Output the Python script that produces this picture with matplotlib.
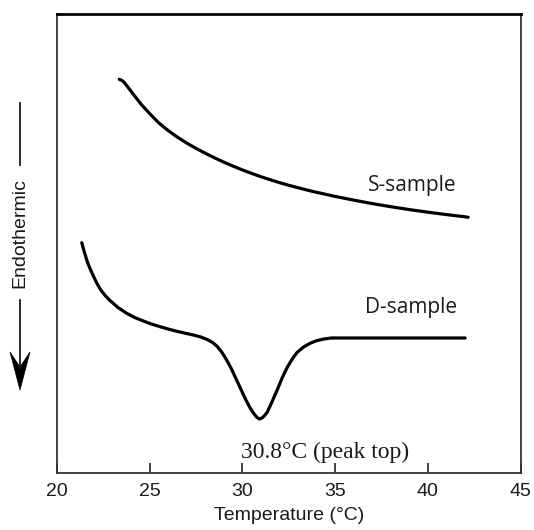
import matplotlib
matplotlib.use("Agg")
import matplotlib.pyplot as plt
from matplotlib.lines import Line2D
from matplotlib.patches import Polygon

# ---- data (heat flow in arbitrary units) ----
s_temp = [23.37, 23.50, 23.63, 23.85, 24.13, 24.55, 25.03, 25.50, 26.00, 26.50,
          27.00, 27.50, 28.00, 28.50, 29.00, 29.50, 30.00, 30.50, 31.00, 31.50,
          32.00, 32.50, 33.00, 33.50, 34.00, 35.00, 36.00, 37.00, 38.00, 39.00,
          40.00, 41.00, 42.00, 42.17]
s_flow = [394.0, 393.0, 391.0, 385.8, 379.0, 369.0, 359.3, 350.4, 342.8, 336.2,
          330.3, 325.0, 320.1, 315.5, 311.2, 307.2, 303.4, 299.9, 296.6, 293.6,
          290.7, 288.0, 285.6, 283.2, 281.0, 276.9, 273.2, 269.7, 266.6, 263.7,
          261.1, 258.7, 256.5, 256.0]

d_temp = [21.35, 21.50, 21.65, 21.80, 21.97, 22.15, 22.35, 22.60, 22.87, 23.30,
          23.77, 24.20, 24.67, 25.10, 25.57, 26.00, 26.45, 26.90, 27.36, 27.75,
          28.10, 28.40, 28.65, 28.90, 29.15, 29.40, 29.65, 29.90, 30.15, 30.40,
          30.60, 30.78, 30.92, 31.06, 31.20, 31.34, 31.60, 31.88, 32.15, 32.42,
          32.70, 32.95, 33.30, 33.65, 34.00, 34.40, 34.80, 36.35, 42.01]
d_flow = [230.6, 220.5, 211.5, 204.5, 197.5, 190.5, 184.0, 178.0, 172.8, 165.8,
          160.0, 155.8, 152.3, 149.3, 146.6, 144.3, 142.1, 140.2, 138.3, 136.4,
          133.9, 130.8, 126.8, 121.0, 113.5, 105.0, 95.0, 85.0, 75.0, 66.0,
          60.3, 56.0, 54.3, 55.3, 57.8, 61.0, 71.5, 83.3, 95.5, 106.0,
          114.5, 120.8, 126.3, 130.0, 132.6, 134.3, 135.3, 135.3, 135.3]

x_ticks = [20, 25, 30, 35, 40, 45]
x_tick_labels = ["20", "25", "30", "35", "40", "45"]
peak_label = "30.8\u00b0C (peak top)"
s_label = "S-sample"
d_label = "D-sample"

# ---- figure ----
W, H = 534, 530
fig = plt.figure(figsize=(W / 100, H / 100), dpi=100)
ax = fig.add_axes([56.7 / W, 1 - 473.3 / H, (520.7 - 56.7) / W, (473.3 - 14) / H])

ax.plot(s_temp, s_flow, color="black", lw=2.3, solid_capstyle="round", solid_joinstyle="round")
ax.plot(d_temp, d_flow, color="black", lw=2.3, solid_capstyle="round", solid_joinstyle="round")

ax.set_xlim(20, 45)
ax.set_ylim(0, 459.3)
ax.set_xticks(x_ticks)
ax.set_xticklabels(x_tick_labels, fontfamily="Liberation Sans", fontsize=14, color="#1a1a1a")
ax.set_yticks([])
ax.tick_params(axis="x", direction="in", length=7, width=1.3, color="#333333", pad=7)

for side in ["left", "bottom", "right"]:
    ax.spines[side].set_color("#333333")
    ax.spines[side].set_linewidth(1.3)
ax.spines["top"].set_color("black")
ax.spines["top"].set_linewidth(2.0)

ax.set_xlabel("Temperature (\u00b0C)", fontfamily="Liberation Sans", fontsize=14,
              color="#1a1a1a", labelpad=5)

ax.text(39.15, 288.3, s_label, fontfamily="Open Sans", fontsize=15, ha="center", va="center",
        color="#1a1a1a")
ax.text(39.10, 166.3, d_label, fontfamily="Open Sans", fontsize=15, ha="center", va="center",
        color="#1a1a1a")
ax.text(34.44, 21.3, peak_label, fontfamily="Liberation Serif", fontsize=17, ha="center",
        va="center", color="#1a1a1a")

# ---- y-axis "Endothermic" indicator ----
xc = 20 / W
fig.text(xc, 1 - 233.5 / H, "Endothermic", rotation=90, ha="center", va="center",
         fontfamily="Liberation Sans", fontsize=14, color="#1a1a1a")
fig.add_artist(Line2D([xc, xc], [1 - 103 / H, 1 - 165 / H], transform=fig.transFigure,
                      color="#1a1a1a", lw=1.3))
fig.add_artist(Line2D([xc, xc], [1 - 300 / H, 1 - 368 / H], transform=fig.transFigure,
                      color="#1a1a1a", lw=1.3))
hw = 10 / W
head = Polygon([[xc, 1 - 390 / H], [xc - hw, 1 - 352 / H], [xc, 1 - 367 / H], [xc + hw, 1 - 352 / H]],
               closed=True, transform=fig.transFigure, facecolor="black", edgecolor="black", lw=0.5)
fig.add_artist(head)

fig.savefig("out.png", dpi=100)
